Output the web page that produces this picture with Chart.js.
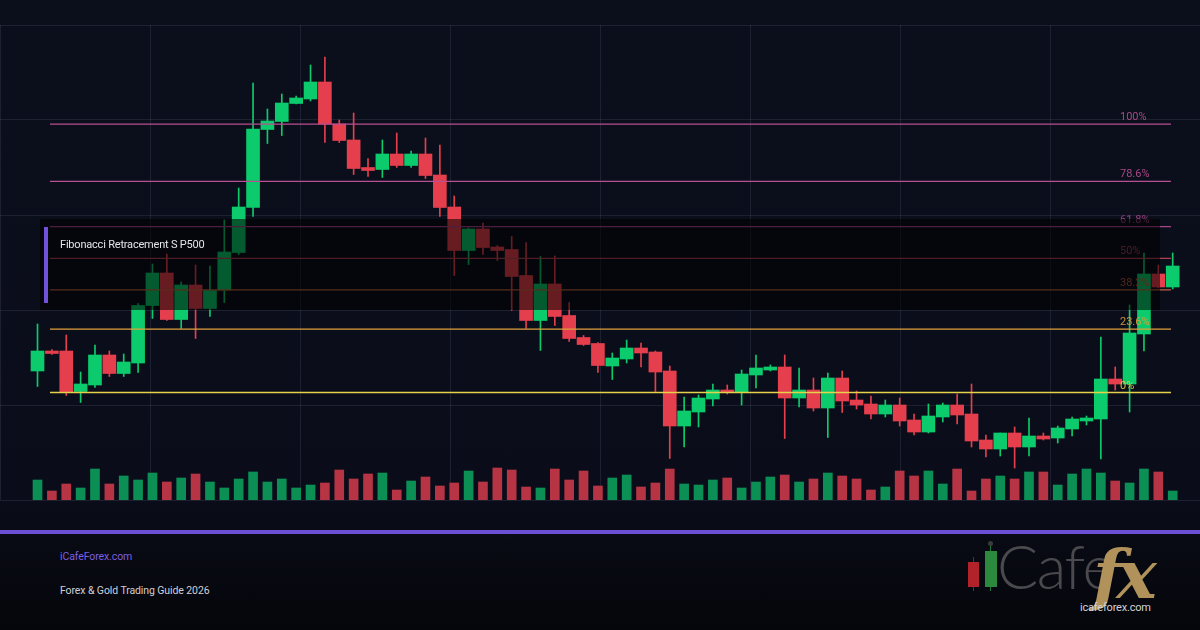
<!DOCTYPE html>
<html>
<head>
<meta charset="utf-8">
<title>Fibonacci Retracement S P500</title>
<script src="https://cdn.jsdelivr.net/npm/chart.js@4.4.1/dist/chart.umd.min.js"></script>
<style>
  html, body { margin: 0; padding: 0; background: #06070d; }
  #page {
    position: relative; width: 1200px; height: 630px; overflow: hidden;
    background: linear-gradient(#0b0f1c 0px, #0a0d19 500px, #090b15 530px, #05060b 630px);
    font-family: Roboto, "Noto Sans", sans-serif;
  }
  #chartWrap { position: absolute; left: 0; top: 0; width: 1200px; height: 510px; }
  #panel {
    position: absolute; left: 40px; top: 219px; width: 1120px; height: 91px;
    background: rgba(0, 0, 0, 0.55);
  }
  #panel .accent { position: absolute; left: 4px; top: 8px; width: 4px; height: 76px; background: #6f52d9; }
  #panel .title { position: absolute; left: 20px; top: 19px; font-size: 11px; color: #e4e4ea; white-space: nowrap; letter-spacing: -0.2px; }
  #rule { position: absolute; left: 0; top: 530px; width: 1200px; height: 4px; background: #6b4fd4; }
  .foot { position: absolute; left: 60px; font-size: 10.5px; white-space: nowrap; letter-spacing: -0.1px; }
  #site { top: 550px; color: #7c5fe2; }
  #guide { top: 584px; color: #cfcfd6; }
  .lc { position: absolute; }
  #logoText { position: absolute; left: 997px; top: 529px; font: 300 61px Lato, "Open Sans", sans-serif; color: #4a4a4e; letter-spacing: -1.5px; }
  #logoFx { position: absolute; left: 1093px; top: 534px; font: italic bold 68px "DejaVu Serif", "Liberation Serif", serif; color: #b0925a; letter-spacing: -6px; }
  #logoUrl { position: absolute; left: 1080px; top: 601px; font-size: 11px; color: #d2d2d6; letter-spacing: -0.2px; }
</style>
</head>
<body>
<div id="page">
  <div id="chartWrap"><canvas id="fibChart" width="1200" height="510"></canvas></div>
  <div id="panel"><div class="accent"></div><div class="title">Fibonacci Retracement S P500</div></div>
  <div id="rule"></div>
  <div class="foot" id="site">iCafeForex.com</div>
  <div class="foot" id="guide">Forex &amp; Gold Trading Guide 2026</div>

  <!-- logo -->
  <div class="lc" style="left:973px;top:557px;width:1px;height:34px;background:#8a1c22"></div>
  <div class="lc" style="left:968px;top:562px;width:11px;height:25px;background:#b2222b"></div>
  <div class="lc" style="left:990px;top:545px;width:1px;height:46px;background:#24753a"></div>
  <div class="lc" style="left:988px;top:541px;width:5px;height:5px;border-radius:50%;background:#3a3a3a"></div>
  <div class="lc" style="left:985px;top:551px;width:12px;height:36px;background:#2b8a3e"></div>
  <div id="logoText">Cafe</div>
  <div id="logoFx">fx</div>
  <div id="logoUrl">icafeforex.com</div>
</div>

<script>
// OHLC, one entry per session (80 sessions)
const opens  = [4858,4898,4898,4817,4830,4890,4853,4874,4989,5054,4961,5030,4983,5020,5095,5185,5341,5357,5393,5402,
                5436,5352,5320,5265,5261,5292,5269,5292,5250,5186,5099,5142,5106,5101,5049,4959,5032,4969,4925,4913,
                4868,4882,4904,4896,4858,4748,4776,4802,4820,4816,4850,4860,4866,4804,4820,4784,4844,4800,4792,4772,
                4790,4760,4736,4766,4790,4772,4720,4702,4734,4706,4728,4724,4742,4758,4762,4842,4832,4932,5052,5026];
const highs  = [4952,4901,4930,4856,4910,4898,4892,4993,5072,5092,5036,5070,5068,5160,5224,5434,5382,5412,5408,5470,
                5486,5360,5374,5283,5320,5334,5298,5324,5310,5208,5144,5154,5109,5127,5115,5087,5088,4995,4929,4915,
                4894,4920,4914,4898,4868,4806,4810,4832,4830,4860,4890,4870,4890,4864,4844,4854,4858,4818,4808,4800,
                4804,4772,4792,4794,4812,4832,4730,4734,4746,4764,4734,4748,4766,4768,4926,4866,4990,5094,5070,5094];
const lows   = [4827,4891,4809,4795,4825,4847,4847,4855,4963,4959,4943,4923,4967,4995,5091,5167,5313,5329,5392,5398,
                5315,5315,5251,5247,5245,5265,5265,5243,5167,5049,5071,5091,5079,4979,4943,4899,4949,4917,4909,4855,
                4841,4874,4866,4817,4683,4706,4746,4788,4812,4790,4824,4858,4723,4786,4778,4725,4775,4782,4762,4766,
                4748,4730,4734,4756,4752,4706,4686,4688,4664,4688,4720,4714,4728,4750,4682,4820,4776,4898,5024,5022];
const closes = [4898,4893,4815,4832,4890,4853,4876,4989,5054,4961,5030,4983,5019,5096,5186,5342,5358,5394,5404,5436,
                5352,5319,5263,5259,5292,5269,5292,5249,5185,5099,5142,5105,5099,5047,4959,5032,4967,4923,4911,4869,
                4884,4904,4894,4856,4748,4778,4804,4820,4816,4852,4864,4866,4804,4820,4784,4844,4798,4790,4772,4790,
                4758,4736,4768,4790,4770,4718,4702,4734,4706,4728,4722,4744,4762,4764,4842,4832,4934,5052,5026,5068];
// volume, billions of shares
const volumes = [2.0,0.9,1.6,1.2,3.1,1.6,2.4,2.0,2.7,1.8,2.2,2.6,1.8,1.2,2.1,2.8,1.8,2.1,1.2,1.5,
                 1.7,3.0,2.1,2.6,2.7,1.0,1.9,2.3,1.4,1.7,2.9,1.8,3.2,3.0,1.3,1.2,3.1,2.0,2.9,1.4,
                 2.2,2.5,1.3,1.7,3.1,1.6,1.5,2.0,2.2,1.2,1.8,2.3,2.5,1.8,2.1,2.7,2.4,2.1,1.0,1.3,
                 2.9,2.4,2.9,1.6,3.1,0.9,2.1,2.4,2.1,2.8,2.8,1.5,2.6,3.1,2.7,1.9,1.7,3.1,2.8,0.9];

// Fibonacci swing (drawn retracement anchors)
const fibHigh = 5352;
const fibLow = 4815;
const fibRatios = [0, 0.236, 0.382, 0.5, 0.618, 0.786, 1];
const fibLabels = ['0%', '23.6%', '38.2%', '50%', '61.8%', '78.6%', '100%'];
const fibColors = ['#e6d24a', '#e0a23c', '#c0603e', '#b0404e', '#a8468a', '#b84f92', '#b84f92'];

// price axis range, grid step
const priceMin = 4600, priceMax = 5550, priceStep = 190;
// x range in session units (a bit of room either side)
const xMin = -2.61, xMax = 80.9;
const fibStartX = 0.87, fibEndX = 78.88, fibLabelX = 75.33;

const upColor = '#0ccb6c', downColor = '#e53e4d';
const upVol = '#0b8f55', downVol = '#b73445';
const gridColor = 'rgba(120,130,165,0.17)';

document.addEventListener('DOMContentLoaded', function () {
  const isUp = closes.map((c, i) => c >= opens[i]);
  const candleColors = isUp.map(u => u ? upColor : downColor);

  const fibLevels = fibRatios.map(r => fibLow + r * (fibHigh - fibLow));

  const fibSets = fibLevels.map((lvl, k) => ({
    type: 'line',
    data: [{ x: fibStartX, y: lvl }, { x: fibEndX, y: lvl }],
    borderColor: fibColors[k],
    borderWidth: k < 2 ? 1.4 : 1.25,
    pointRadius: 0,
    yAxisID: 'y',
    order: -1
  }));

  // draw fib % labels just above each line
  const fibLabelPlugin = {
    id: 'fibLabels',
    afterDatasetsDraw(chart) {
      const ctx = chart.ctx;
      const xs = chart.scales.x, ys = chart.scales.y;
      ctx.save();
      ctx.font = '11px Roboto, "Noto Sans", sans-serif';
      ctx.textBaseline = 'alphabetic';
      ctx.textAlign = 'left';
      fibLevels.forEach((lvl, k) => {
        ctx.fillStyle = fibColors[k];
        ctx.globalAlpha = 0.9;
        ctx.fillText(fibLabels[k], xs.getPixelForValue(fibLabelX), ys.getPixelForValue(lvl) - 4);
      });
      ctx.restore();
    }
  };

  new Chart(document.getElementById('fibChart'), {
    type: 'bar',
    data: {
      datasets: [
        ...fibSets,
        {
          label: 'body',
          data: opens.map((o, i) => ({ x: i, y: [o, closes[i]] })),
          backgroundColor: candleColors,
          barThickness: 13,
          grouped: false,
          yAxisID: 'y',
          order: 0
        },
        {
          label: 'wick',
          data: lows.map((l, i) => ({ x: i, y: [l, highs[i]] })),
          backgroundColor: candleColors,
          barThickness: 1,
          grouped: false,
          yAxisID: 'y',
          order: 1
        },
        {
          label: 'volume',
          data: volumes.map((v, i) => ({ x: i, y: v })),
          backgroundColor: isUp.map(u => u ? upVol : downVol),
          barThickness: 9,
          grouped: false,
          yAxisID: 'yv',
          order: 2
        }
      ]
    },
    options: {
      responsive: false,
      animation: false,
      events: [],
      layout: { padding: { top: 25, bottom: 10, left: 0, right: 0 } },
      plugins: { legend: { display: false }, tooltip: { enabled: false } },
      scales: {
        x: {
          type: 'linear', min: xMin, max: xMax, offset: false,
          grid: { color: gridColor, drawTicks: false, offset: false },
          border: { display: false },
          ticks: { display: false },
          afterBuildTicks: s => {
            s.ticks = Array.from({ length: 9 }, (_, k) => ({ value: xMin + k * (xMax - xMin) / 8 }));
          }
        },
        y: {
          type: 'linear', min: priceMin, max: priceMax, beginAtZero: false,
          grid: { color: gridColor, drawTicks: false },
          border: { display: false },
          ticks: { display: false, stepSize: priceStep }
        },
        yv: { type: 'linear', display: false, min: 0, max: 47.5 }
      }
    },
    plugins: [fibLabelPlugin]
  });
});
</script>
</body>
</html>
